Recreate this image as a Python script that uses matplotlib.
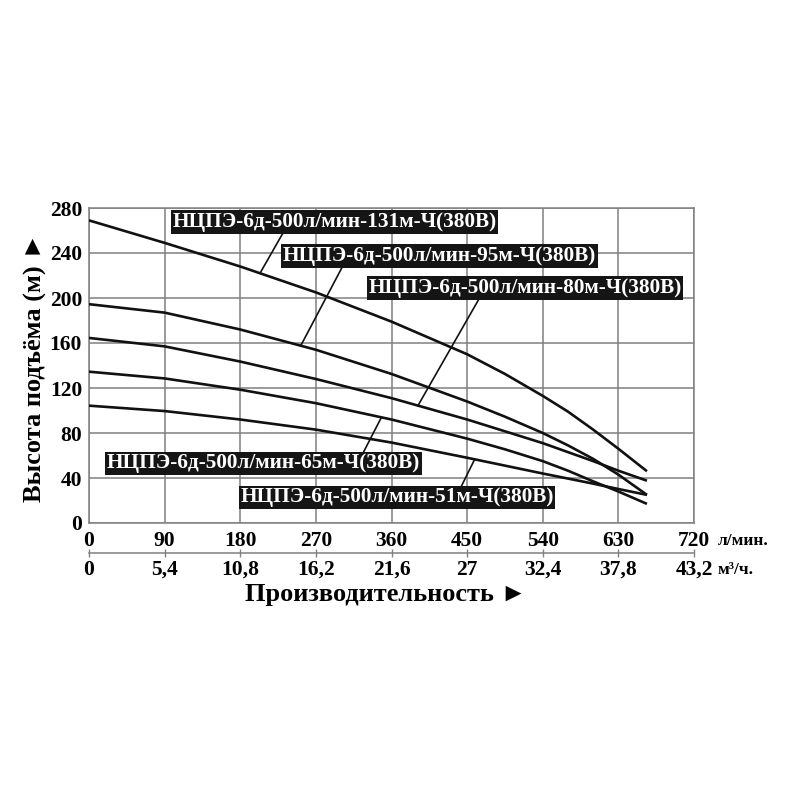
import matplotlib
matplotlib.use('Agg')
import matplotlib.pyplot as plt
import numpy as np

plt.rcParams['font.family'] = ['Liberation Serif', 'DejaVu Serif']
plt.rcParams['font.weight'] = 'bold'

# flow, l/min
flow = [0, 90, 180, 270, 360, 450, 495, 540, 570, 600, 630, 664]
# head, m
head_131 = [269, 249, 228, 205, 179, 150, 132.5, 113, 99, 83, 66, 46]
head_95 = [194.5, 187, 172, 154, 132.5, 108, 94.5, 80, 69, 57, 43, 25]
head_80 = [164.5, 157, 143.5, 128, 111, 92, 81.5, 71, 63, 55, 46.5, 37.6]
head_65 = [134.5, 128.5, 118.5, 106.5, 92, 75, 65.5, 55, 46.5, 37, 28, 17]
head_51 = [104.3, 99.5, 92, 83, 71.5, 58, 51, 44, 39.5, 35, 30.2, 25]

names = ['НЦПЭ-6д-500л/мин-131м-Ч(380В)', 'НЦПЭ-6д-500л/мин-95м-Ч(380В)',
         'НЦПЭ-6д-500л/мин-80м-Ч(380В)', 'НЦПЭ-6д-500л/мин-65м-Ч(380В)',
         'НЦПЭ-6д-500л/мин-51м-Ч(380В)']
heads = [head_131, head_95, head_80, head_65, head_51]

flow_ticks = [0, 90, 180, 270, 360, 450, 540, 630, 720]
m3h_labels = ['0', '5,4', '10,8', '16,2', '21,6', '27', '32,4', '37,8', '43,2']
head_ticks = [0, 40, 80, 120, 160, 200, 240, 280]

# label box centre, leader start, leader end flow
label_pos = [(292, 267.6), (417, 237.3), (519, 208.9), (207.7, 52.9), (366.5, 22.7)]
leader_start = [(231, 258), (302, 228.4), (464, 199), (326, 62), (442.7, 32)]
leader_end_q = [203.5, 252, 391.5, 348, 459]

grid_col = '#808080'

fig = plt.figure(figsize=(8, 8), dpi=100)
ax = fig.add_axes([89 / 800, 1 - 523 / 800, 605 / 800, 315 / 800])

for h in heads:
	ax.plot(flow, h, color='#111111', lw=1.9, solid_capstyle='butt', solid_joinstyle='round', zorder=3)

for name, h, pos, st, eq in zip(names, heads, label_pos, leader_start, leader_end_q):
	ey = np.interp(eq, flow, h)
	ax.plot([st[0], eq], [st[1], ey], color='#111111', lw=1.2, zorder=3)
	ax.text(pos[0], pos[1], name, color='white', fontsize=15.3, fontweight='bold',
			ha='center', va='center', zorder=4,
			bbox=dict(boxstyle='square,pad=0.08', fc='#151515', ec='none'))

ax.set_xlim(0, 720)
ax.set_ylim(0, 280)
ax.set_xticks(flow_ticks)
ax.set_yticks(head_ticks)
ax.grid(True, color=grid_col, lw=1.1)
ax.set_axisbelow(True)
for sp in ax.spines.values():
	sp.set_color(grid_col)
	sp.set_linewidth(1.1)
ax.tick_params(axis='both', length=0, labelsize=15.5)
ax.tick_params(axis='x', pad=6)
ax.tick_params(axis='y', pad=5)

sec = ax.secondary_xaxis('bottom', functions=(lambda q: q * 0.06, lambda m: m / 0.06))
sec.set_xticks([q * 0.06 for q in flow_ticks])
sec.set_xticklabels(m3h_labels)
sec.spines['bottom'].set_position(('outward', 21.6))
sec.spines['bottom'].set_color(grid_col)
sec.spines['bottom'].set_linewidth(1.1)
sec.tick_params(axis='x', direction='inout', length=6, width=1, color=grid_col,
				labelsize=15.5, pad=2)

fig.text(718 / 800, 1 - 541 / 800, 'л/мин.', fontsize=12.5, fontweight='bold', ha='left', va='center')
fig.text(718 / 800, 1 - 570 / 800, 'м³/ч.', fontsize=12.5, fontweight='bold', ha='left', va='center')
fig.text(35 / 800, 1 - 367 / 800, 'Высота подъёма (м) ►', rotation=90, fontsize=19,
		 fontweight='bold', ha='center', va='center')
fig.text(386 / 800, 1 - 594 / 800, 'Производительность ►', fontsize=19,
		 fontweight='bold', ha='center', va='center')

plt.savefig('out.png', dpi=100)
plt.close()
